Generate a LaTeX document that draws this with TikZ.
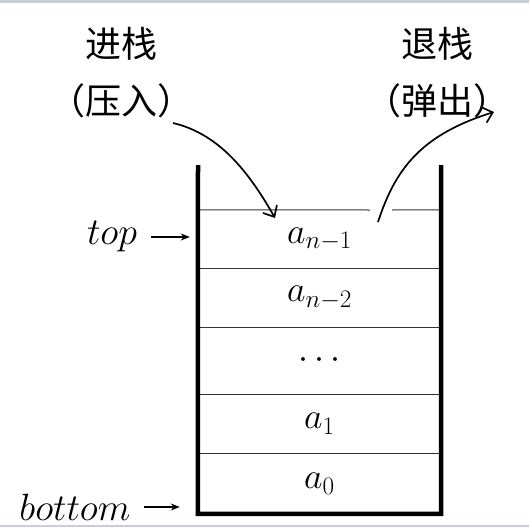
\documentclass[tikz,border=0pt]{standalone}
\usepackage{fix-cm}
\usepackage{fontspec}
\newfontfamily\cjk{Noto Sans CJK SC}
\usetikzlibrary{positioning,arrows.meta}

\definecolor{framegray}{RGB}{201,206,216}

\tikzstyle{arrow} = [line width=1.7pt,->,>={Straight Barb[length=9pt,width=16pt]}]
\tikzstyle{pointer} = [line width=1.3pt,->,>={Stealth[length=9pt,width=7pt]}]
\tikzstyle{cell} = [
        rectangle,
        minimum width=243pt,
        inner sep=0pt,
        text centered,
        font=\fontsize{36}{42}\selectfont
    ]
\tikzstyle{caption} = [align=center, font=\cjk\fontsize{36}{57}\selectfont]
\tikzstyle{tag} = [inner sep=0pt, font=\fontsize{38}{44}\selectfont]
\tikzstyle{wall} = [line width=4.5pt, line join=miter]
\tikzstyle{sep} = [line width=1pt, black!80]

\begin{document}
\begin{tikzpicture}[x=1pt, y=-1pt]
    \useasboundingbox (0,0) rectangle (529,527);
    \fill[framegray] (0,0) rectangle (529,3.5);
    \fill[framegray] (0,525) rectangle (529,527);

    % stack cells
    \node (an1) [cell, minimum height=58pt] at (319.5,239) {$a_{n-1}$};
    \node (an2) [cell, minimum height=59pt, below=0pt of an1] {$a_{n-2}$};
    \node (dots) [cell, minimum height=66pt, below=0pt of an2] {$\cdots$};
    \node (a1) [cell, minimum height=59pt, below=0pt of dots] {$a_1$};
    \node (a0) [cell, minimum height=60pt, below=0pt of a1] {$a_0$};

    \coordinate (rimL) at (198,165);
    \coordinate (rimR) at (441,165);
    \coordinate (gapL) at (370,210);
    \coordinate (gapR) at (392,210);

    \draw [sep] (an1.north west) -- (gapL);
    \draw [sep] (gapR) -- (an1.north east);
    \foreach \c in {an1,an2,dots,a1}
        \draw [sep] (\c.south west) -- (\c.south east);
    \draw [wall] (rimL) -- (a0.south west) -- (a0.south east) -- (rimR);

    % pointers
    \node (top) [tag] at (112,237) {$top$};
    \node (bottom) [tag] at (75,507) {$bottom$};
    \draw [pointer, shorten <=14pt, shorten >=8pt] (top.east) -- (top.east -| an1.west);
    \draw [pointer, shorten <=13pt, shorten >=18pt] (bottom.east) -- (bottom.east -| a0.west);

    % push and pop
    \node (push) [caption] at (121,73) {进栈\\（压入）};
    \node (pop) [caption] at (437,73) {退栈\\（弹出）};
    \coordinate (pushstart) at (173,123);
    \coordinate (pushend) at (275,218);
    \coordinate (popstart) at (378,222);
    \coordinate (popend) at (494,112);
    \draw [arrow] (pushstart) .. controls (215,133) and (245,165) .. (pushend);
    \draw [arrow] (popstart) .. controls (395,170) and (420,135) .. (popend);
\end{tikzpicture}
\end{document}
